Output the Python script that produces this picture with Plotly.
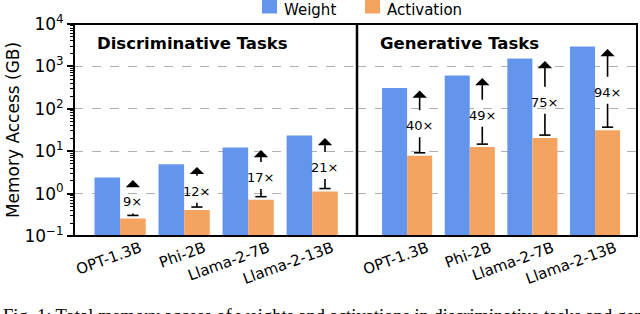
import math
import plotly.graph_objects as go

models = ["OPT-1.3B", "Phi-2B", "Llama-2-7B", "Llama-2-13B"]
disc_weight = [2.4, 4.9, 12.2, 23.5]
disc_act = [0.26, 0.41, 0.72, 1.12]
disc_ratio = ["9×", "12×", "17×", "21×"]
gen_weight = [310, 610, 1530, 2950]
gen_act = [7.8, 12.5, 20.4, 31.4]
gen_ratio = ["40×", "49×", "75×", "94×"]
ytick_vals = [0.1, 1, 10, 100, 1000, 10000]
ytick_text = ["10<sup>−1</sup>", "10<sup>0</sup>", "10<sup>1</sup>", "10<sup>2</sup>",
              "10<sup>3</sup>", "10<sup>4</sup>"]
series_names = ["Weight", "Activation"]
panel_titles = ["Discriminative Tasks", "Generative Tasks"]
caption = ("Fig. 1: Total memory access of weights and activations in discriminative tasks "
           "and generative tasks")

BLUE = "#6495ED"
ORANGE = "#F4A460"
FONT = "DejaVu Sans"

W, H = 640, 314
ML, MR, MT, MB = 74, 3, 24, 78
PW = W - ML - MR
PH = H - MT - MB
split = 283 / PW


def px(xpage):
    return (xpage - ML) / PW


def py(ypage):
    return 1 - (ypage - MT) / PH


fig = go.Figure()
idx = list(range(len(models)))

panels = [
    ("x", "y", disc_weight, disc_act, disc_ratio),
    ("x2", "y2", gen_weight, gen_act, gen_ratio),
]
annotations = []
for xa, ya, wv, av, rv in panels:
    fig.add_trace(go.Bar(x=idx, y=wv, name=series_names[0],
                         marker=dict(color=BLUE, line=dict(width=0)),
                         offsetgroup="w", xaxis=xa, yaxis=ya, showlegend=False))
    fig.add_trace(go.Bar(x=idx, y=av, name=series_names[1],
                         marker=dict(color=ORANGE, line=dict(width=0)),
                         offsetgroup="a", xaxis=xa, yaxis=ya, showlegend=False))
    xs = [i + 0.2 for i in idx]
    caps = [a * 10 ** 0.07 for a in av]
    fig.add_trace(go.Scatter(x=xs, y=caps, mode="markers", xaxis=xa, yaxis=ya, showlegend=False,
                             hoverinfo="skip",
                             marker=dict(symbol="line-ew", size=8,
                                         line=dict(width=1.6, color="black"))))
    for x, w, a, r in zip(xs, wv, av, rv):
        lw, la = math.log10(w), math.log10(a)
        mid = (lw + la) / 2
        annotations.append(dict(x=x, y=mid, xref=xa, yref=ya, text=r, showarrow=False,
                                yshift=-4, font=dict(size=13, color="black", family=FONT)))
        annotations.append(dict(x=x, y=lw - 0.06, xref=xa, yref=ya, ax=x, ay=mid,
                                axref=xa, ayref=ya, text="", showarrow=True, arrowhead=1,
                                arrowsize=1.5, arrowwidth=1.6, arrowcolor="black",
                                startstandoff=10))
        annotations.append(dict(x=x, y=la + 0.07, xref=xa, yref=ya, ax=x, ay=mid,
                                axref=xa, ayref=ya, text="", showarrow=True, arrowhead=0,
                                arrowwidth=1.6, arrowcolor="black", startstandoff=14))

annotations.append(dict(x=px(95), y=py(43), xref="paper", yref="paper",
                        xanchor="left", yanchor="middle", showarrow=False,
                        text="<b>" + panel_titles[0] + "</b>",
                        font=dict(size=16.5, color="black", family=FONT)))
annotations.append(dict(x=px(378), y=py(43), xref="paper", yref="paper",
                        xanchor="left", yanchor="middle", showarrow=False,
                        text="<b>" + panel_titles[1] + "</b>",
                        font=dict(size=16.5, color="black", family=FONT)))
annotations.append(dict(x=px(1), y=py(304), xref="paper", yref="paper",
                        xanchor="left", yanchor="top", showarrow=False, text=caption,
                        font=dict(size=18.5, color="black", family="Liberation Serif")))

# legend (drawn as swatches + labels above the plot)
legend_shapes = []
for name, color, x0 in zip(series_names, [BLUE, ORANGE], [262, 365]):
    legend_shapes.append(dict(type="rect", xref="paper", yref="paper",
                              x0=px(x0), x1=px(x0 + 15), y0=py(13.5), y1=py(-1.5),
                              fillcolor=color, line=dict(width=0)))
    annotations.append(dict(x=px(x0 + 21), y=py(0), xref="paper", yref="paper",
                            xanchor="left", yanchor="top", showarrow=False, text=name,
                            borderpad=0,
                            font=dict(size=15, color="black", family=FONT)))

grid = dict(showgrid=True, gridcolor="#b0b0b0", gridwidth=1, griddash="dash")
yaxis_common = dict(type="log", range=[-1, 4], zeroline=False, showline=False, **grid)
xaxis_common = dict(tickvals=idx, ticktext=models, tickangle=-20, ticks="", showgrid=False,
                    zeroline=False, showline=False, tickfont=dict(size=15), automargin=False,
                    ticklabelshift=20)

fig.update_layout(
    width=W, height=H,
    margin=dict(l=ML, r=MR, t=MT, b=MB, autoexpand=False),
    plot_bgcolor="white", paper_bgcolor="white",
    barmode="group", bargap=0.2, bargroupgap=0,
    font=dict(family=FONT, color="black"),
    showlegend=False,
    xaxis=dict(domain=[0, split], range=[-0.72, 3.70], anchor="y", **xaxis_common),
    xaxis2=dict(domain=[split, 1], range=[-0.80, 3.67], anchor="y2", **xaxis_common),
    yaxis=dict(anchor="x", tickvals=ytick_vals, ticktext=ytick_text, ticks="outside",
               ticklen=6, tickwidth=1.5, tickcolor="black", tickfont=dict(size=17),
               minor=dict(ticks="outside", ticklen=3, tickwidth=1, tickcolor="black",
                          dtick="D1", showgrid=False),
               title=dict(text="Memory Access (GB)", font=dict(size=17), standoff=0),
               automargin=False, **yaxis_common),
    yaxis2=dict(anchor="x2", tickvals=ytick_vals, showticklabels=False, ticks="",
                automargin=False, **yaxis_common),
    annotations=annotations,
    shapes=legend_shapes + [
        dict(type="rect", xref="paper", yref="paper", x0=0, y0=0, x1=1, y1=1,
             line=dict(color="black", width=2), fillcolor="rgba(0,0,0,0)", layer="above"),
        dict(type="line", xref="paper", yref="paper", x0=split, y0=0, x1=split, y1=1,
             line=dict(color="black", width=2.5), layer="above"),
    ],
)

fig.write_html("out.html", config={"displayModeBar": False},
               post_script="document.body.style.margin='0';")
